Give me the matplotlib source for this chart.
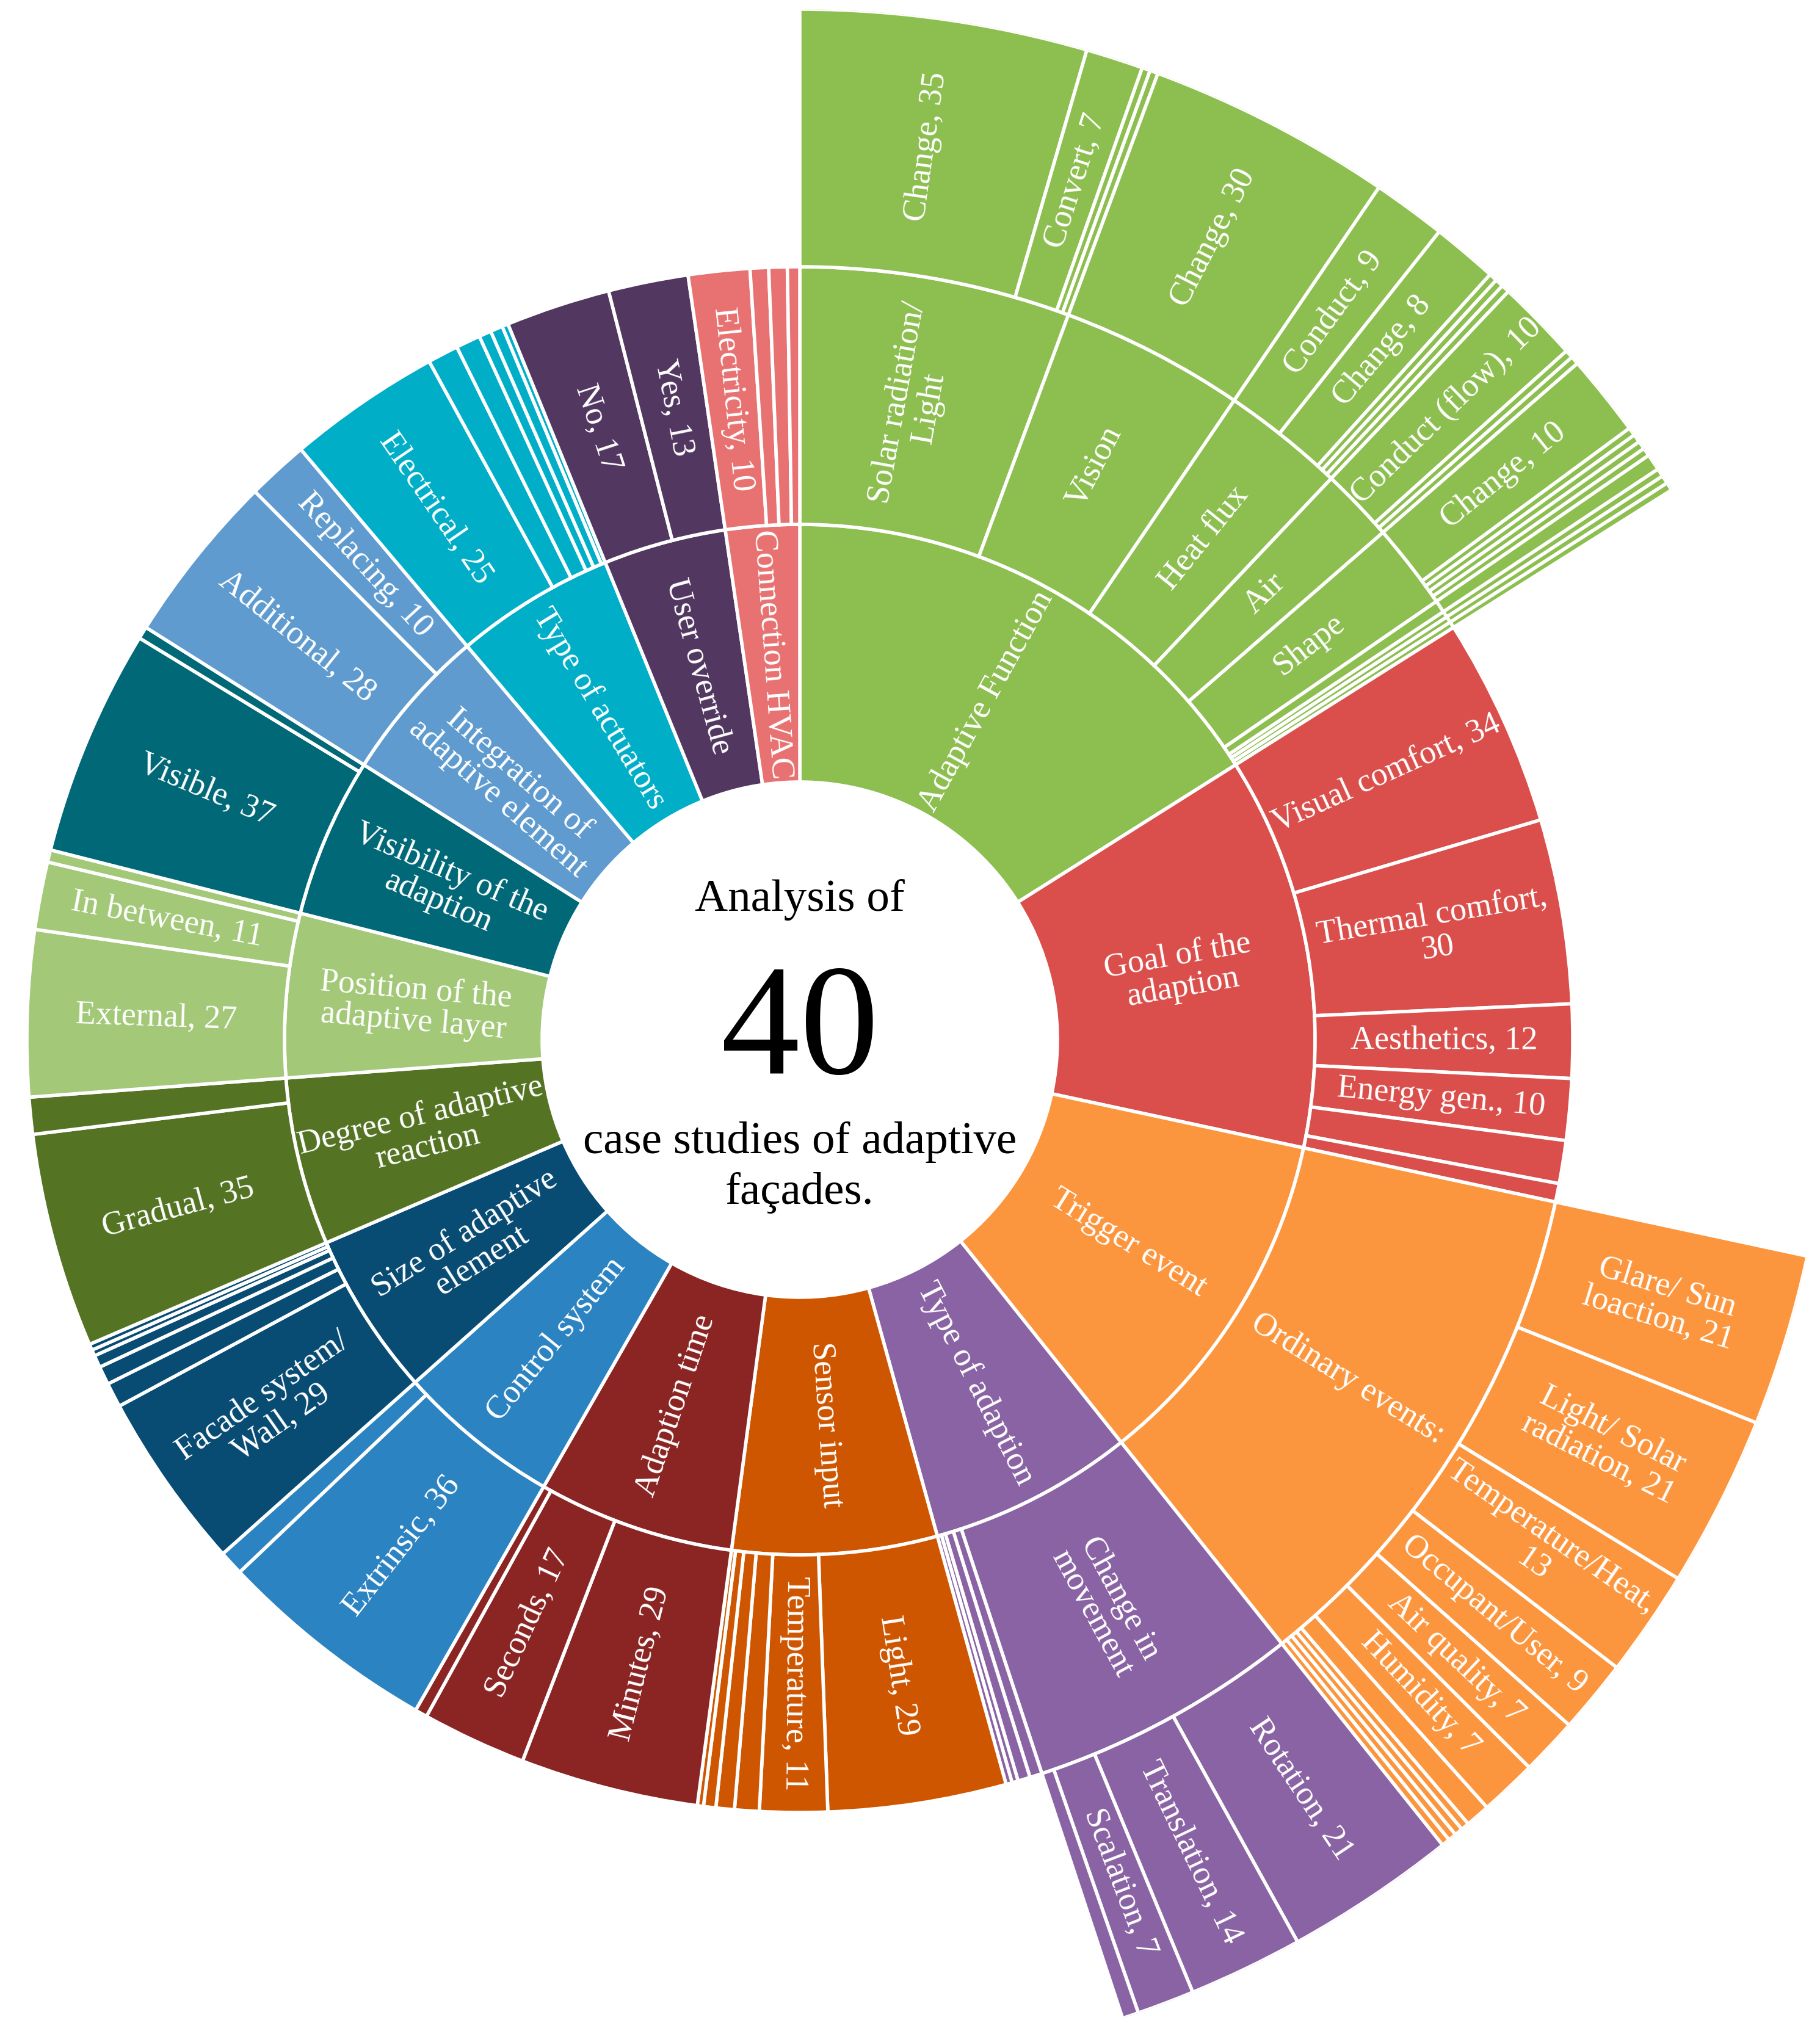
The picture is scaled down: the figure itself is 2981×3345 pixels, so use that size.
import numpy as np
import matplotlib.pyplot as plt

plt.rcParams['font.family'] = ['Liberation Serif', 'DejaVu Serif']

W, H = 2981, 3345
CX, CY = 1310, 1703      # centre of the sunburst, pixels from top-left
UNIT = 422               # pixel width of one ring

# ---- ring 1 (categories) ----
categories = ["Adaptive Function", "Goal of the\nadaption", "Trigger event", "Type of adaption",
              "Sensor input", "Adaption time", "Control system", "Size of adaptive\nelement",
              "Degree of adaptive\nreaction", "Position of the\nadaptive layer",
              "Visibility of the\nadaption", "Integration of\nadaptive element",
              "Type of actuators", "User override", "Connection HVAC"]
cat_colors = ["#8DBE50", "#DA4F4B", "#FC963E", "#8963A3", "#CF5600", "#8A2523", "#2C83C1",
              "#084B73", "#547424", "#A2C878", "#016877", "#5F9BCF", "#01AEC7", "#523761",
              "#E77271"]

# ---- ring 2 / ring 3 per category (None -> size comes from ring 3) ----
adaptive_names = ["Solar radiation/\nLight", "Vision", "Heat flux", "Air", "Shape", "", "", "", ""]
adaptive_values = [None] * 9
adaptive_outer = {0: (["Change", "Convert", "", ""], [35, 7, 1, 1]),
                  1: (["Change"], [30]),
                  2: (["Conduct", "Change", "", "", ""], [9, 8, 1, 1, 1]),
                  3: (["Conduct (flow)", "", ""], [10, 1, 1]),
                  4: (["Change", "", "", "", ""], [10, 1, 1, 1, 1]),
                  5: ([""], [2]), 6: ([""], [1]), 7: ([""], [1]), 8: ([""], [1])}

goal_names = ["Visual comfort", "Thermal comfort,", "Aesthetics", "Energy gen.", "", ""]
goal_values = [34, 30, 12, 10, 7, 3]

trigger_names = ["Ordinary events:"]
trigger_values = [None]
trigger_outer = {0: (["Glare/ Sun\nloaction", "Light/ Solar\nradiation", "Temperature/Heat,",
                      "Occupant/User", "Air quality", "Humidity", "", "", "", "", ""],
                     [21, 21, 13, 9, 7, 7, 3, 1, 1, 1, 1])}

type_names = ["Change in\nmovement", "", "", "", ""]
type_values = [None, 2, 2, 1, 1]
type_outer = {0: (["Rotation", "Translation", "Scalation", ""], [21, 14, 7, 2])}

sensor_names = ["Light", "Temperature", "", "", "", ""]
sensor_values = [29, 11, 4, 3, 2, 1]

time_names = ["Minutes", "Seconds", ""]
time_values = [29, 17, 2]

control_names = ["Extrinsic", ""]
control_values = [36, 4]

size_names = ["Facade system/\nWall", "", "", "", "", ""]
size_values = [29, 4, 3, 2, 1, 1]

degree_names = ["Gradual", ""]
degree_values = [35, 6]

position_names = ["External", "In between", ""]
position_values = [27, 11, 2]

visibility_names = ["Visible", ""]
visibility_values = [37, 2]

integration_names = ["Additional", "Replacing"]
integration_values = [28, 10]

actuator_names = ["Electrical", "", "", "", "", ""]
actuator_values = [25, 5, 4, 2, 2, 1]

override_names = ["No", "Yes"]
override_values = [17, 13]

hvac_names = ["Electricity", "", "", ""]
hvac_values = [10, 3, 3, 2]

tree = [(adaptive_names, adaptive_values, adaptive_outer),
        (goal_names, goal_values, {}),
        (trigger_names, trigger_values, trigger_outer),
        (type_names, type_values, type_outer),
        (sensor_names, sensor_values, {}),
        (time_names, time_values, {}),
        (control_names, control_values, {}),
        (size_names, size_values, {}),
        (degree_names, degree_values, {}),
        (position_names, position_values, {}),
        (visibility_names, visibility_values, {}),
        (integration_names, integration_values, {}),
        (actuator_names, actuator_values, {}),
        (override_names, override_values, {}),
        (hvac_names, hvac_values, {})]


def leaf_label(name, value):
    if not name:
        return ""
    if name.endswith(","):
        return f"{name}\n{value}"
    return f"{name}, {value}"


def node_size(values, outer):
    return [v if v is not None else sum(outer[i][1]) for i, v in enumerate(values)]


total = sum(sum(node_size(v, o)) for _, v, o in tree)
k = 2 * np.pi / total

fig = plt.figure(figsize=(W / 100, H / 100), dpi=100)
side = 2 * 4 * UNIT
ax = fig.add_axes([CX / W - side / 2 / W, 1 - CY / H - side / 2 / H, side / W, side / H],
                  projection='polar')
ax.set_theta_zero_location('N')
ax.set_theta_direction(-1)
ax.set_ylim(0, 4)
ax.axis('off')


def wedge(start, size, r0, color, label):
    w = size * k
    mid = start * k + w / 2
    ax.bar(mid, 1, width=w, bottom=r0, color=color, edgecolor='white', linewidth=4)
    if label:
        deg = np.degrees(mid)
        rot = 90 - deg
        if 182 < deg < 360:
            rot += 180
        ax.text(mid, r0 + 0.5, label, rotation=rot, rotation_mode='anchor', ha='center',
                va='center', multialignment='center', color='white', fontsize=39,
                linespacing=1.05)


pos = 0
for cat, col, (names, values, outer) in zip(categories, cat_colors, tree):
    sizes = node_size(values, outer)
    wedge(pos, sum(sizes), 1, col, cat)
    p2 = pos
    for i, (nm, sz) in enumerate(zip(names, sizes)):
        if i in outer:
            wedge(p2, sz, 2, col, nm)
            p3 = p2
            for nm3, v3 in zip(*outer[i]):
                wedge(p3, v3, 3, col, leaf_label(nm3, v3))
                p3 += v3
        else:
            wedge(p2, sz, 2, col, leaf_label(nm, sz))
        p2 += sz
    pos += sum(sizes)

# centre text
cx = CX / W
fig.text(cx, 1 - 1492 / H, "Analysis of", ha='center', va='baseline', fontsize=54)
fig.text(cx, 1 - 1758 / H, "40", ha='center', va='baseline', fontsize=186)
fig.text(cx, 1 - 1889 / H, "case studies of adaptive", ha='center', va='baseline', fontsize=54)
fig.text(cx, 1 - 1972 / H, "façades.", ha='center', va='baseline', fontsize=54)

fig.savefig("out.png", dpi=100, facecolor='white')
